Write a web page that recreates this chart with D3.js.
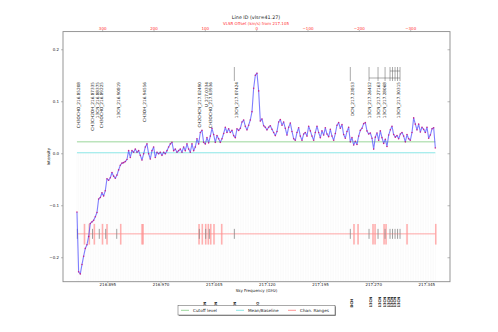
<!DOCTYPE html>
<html><head><meta charset="utf-8">
<script src="https://cdn.jsdelivr.net/npm/d3@7"></script>
<style>
body{margin:0;background:#fff}
svg{display:block;font-family:"DejaVu Sans",sans-serif}
</style>
</head><body>
<svg id="chart" width="498" height="332"></svg>
<script>
// ---- spectrum and annotation data ----
const title = "Line ID (vlsr=41.27)";
const subtitle = "VLSR Offset (km/s) from 217.105";
const xLabel = "Sky Frequency (GHz)";
const yLabel = "Intensity";
const restFreq = 217.105;          // GHz, zero of the velocity axis
const freqStart = 216.8522;        // GHz, first channel
const chanWidth = 0.0023512;       // GHz per channel

const intensity = [
 -0.113,-0.228,-0.232,-0.214,-0.198,-0.183,-0.176,-0.160,-0.135,-0.132,
 -0.129,-0.122,-0.114,-0.088,-0.085,-0.076,-0.082,-0.072,-0.049,-0.052,
 -0.047,-0.037,-0.044,-0.048,-0.042,-0.032,-0.023,-0.019,-0.018,-0.016,
 -0.012, 0.005,-0.008, 0.005, 0.002, 0.008, 0.002, 0.005,-0.004,-0.013,
 -0.001, 0.012, 0.018,-0.001,-0.011, 0.005, 0.012,-0.008, 0.002,-0.001,
  0.002,-0.004, 0.002,-0.001, 0.005, 0.012, 0.018, 0.021, 0.005, 0.008,
  0.002, 0.005, 0.008, 0.002, 0.012, 0.005, 0.018, 0.008, 0.002, 0.018,
  0.005, 0.012, 0.028, 0.018, 0.040, 0.044, 0.021, 0.018, 0.030, 0.020,
  0.033, 0.048, 0.036, 0.021, 0.034, 0.028, 0.021, 0.028, 0.038, 0.050,
  0.040, 0.047, 0.040, 0.044, 0.034, 0.030, 0.047, 0.044, 0.048, 0.060,
  0.064, 0.052, 0.045, 0.054, 0.064, 0.080, 0.125, 0.150, 0.154, 0.120,
  0.062, 0.066, 0.053, 0.050, 0.045, 0.050, 0.053, 0.046, 0.040, 0.034,
  0.042, 0.060, 0.065, 0.054, 0.060, 0.048, 0.035, 0.050, 0.058, 0.042,
  0.028, 0.025, 0.040, 0.049, 0.033, 0.025, 0.037, 0.040, 0.033, 0.052,
  0.043, 0.033, 0.025, 0.040, 0.052, 0.040, 0.030, 0.043, 0.035, 0.049,
  0.037, 0.032, 0.046, 0.033, 0.025, 0.038, 0.054, 0.059, 0.048, 0.055,
  0.036, 0.029, 0.042, 0.050, 0.022, 0.030, 0.016, 0.023, 0.017, 0.033,
  0.044, 0.048, 0.057, 0.059, 0.043, 0.037, 0.039, 0.029, 0.008, 0.031,
  0.039, 0.025, 0.043, 0.030, 0.019, 0.027, 0.013, 0.035, 0.045, 0.052,
  0.036, 0.031, 0.034, 0.028, 0.037, 0.040, 0.033, 0.022, 0.036, 0.028,
  0.025, 0.040, 0.068, 0.056, 0.045, 0.056, 0.041, 0.050, 0.046, 0.040,
  0.050, 0.029, 0.035, 0.047, 0.049, 0.010
];

const cutoffLevel = 0.022;
const baselineLevel = 0.001;
const rangeLevel = -0.155;

const freqTicks = [216.895, 216.970, 217.045, 217.120, 217.195, 217.270, 217.345];
const velTicks = [300, 200, 100, 0, -100, -200, -300];
const yTicks = [-0.2, -0.1, 0.0, 0.1, 0.2];

// channel-range edges (GHz)
const chanEdges = [216.8628, 216.8696, 216.8767, 216.8882, 216.8946, 216.9139,
  216.9440, 216.9454, 217.0244, 217.0290, 217.0338, 217.0375, 217.0409,
  217.0455, 217.0564, 217.2430, 217.2487, 217.2698, 217.2727, 217.2854,
  217.2882, 217.3178, 217.3583];

// identified line positions (GHz)
const lineFreqs = [216.8527, 216.8741, 216.8837, 216.8927, 216.9083, 217.0248,
  217.0338, 217.0389, 217.0742, 217.2378, 217.2642, 217.2769, 217.2868,
  217.2938, 217.2973, 217.3009, 217.3044, 217.3079];

const lineNames = ["CH3OCHO_216.85208", "CH3CH2OH_216.87335", "13CN_216.88375",
  "CH3OCHO_216.89225", "13CN_216.90819", "CH3OH_216.94556",
  "CH2CHCN_217.02490", "U_217.0334", "CH3OCHO_217.03936", "13CN_217.07424",
  "DCN_217.23853", "13CN_217.26452", "13CN_217.27163", "13CN_217.28068",
  "13CN_217.30315"];
const labelFreqs = [216.8541, 216.8748, 216.8808, 216.8864, 216.9107, 216.9475,
  217.0244, 217.0352, 217.0409, 217.0770, 217.2402, 217.2652, 217.2782,
  217.2863, 217.3052];

const sideNames = ["CN", "CN", "CN", "CO", "DCN", "13CN", "13CN", "13CN", "13CN", "13CN", "13CN", "13CN"];
const sideFreqs = [217.0324, 217.0475, 217.0749, 217.1077, 217.2402, 217.2666,
  217.2797, 217.2868, 217.2915, 217.2962, 217.3009, 217.3056];

const legendItems = [
  {name: "Cutoff level", color: "#8fd18f"},
  {name: "Mean/Baseline", color: "#7fe3e3"},
  {name: "Chan. Ranges", color: "#ff8a8a"}
];

// ---- layout ----
const svg = d3.select("#chart");
const L = 63, R = 450, T = 31.6, B = 281.7;

const freqs = intensity.map((_, i) => freqStart + i * chanWidth);
const fLo = freqs[0], fHi = freqs[freqs.length - 1];

const x = d3.scaleLinear().domain([216.8325, 217.3784]).range([L, R]);
const y = d3.scaleLinear().domain([-0.247, 0.234]).range([B, T]);
const cKms = 299792.458;
const toVel = f => (restFreq - f) / restFreq * cKms;
const xv = d3.scaleLinear().domain([toVel(216.8325), toVel(217.3784)]).range([L, R]);

const plot = svg.append("g");

// faint channel grid
plot.append("g").selectAll("line").data(freqs).join("line")
  .attr("x1", d => x(d)).attr("x2", d => x(d))
  .attr("y1", B).attr("y2", y(baselineLevel))
  .attr("stroke", "#000").attr("stroke-opacity", 0.035).attr("stroke-width", 0.6);

// cutoff & baseline
plot.append("line").attr("x1", x(fLo)).attr("x2", x(fHi))
  .attr("y1", y(cutoffLevel)).attr("y2", y(cutoffLevel))
  .attr("stroke", "#8fd18f").attr("stroke-width", 0.9);
plot.append("line").attr("x1", x(fLo)).attr("x2", x(fHi))
  .attr("y1", y(baselineLevel)).attr("y2", y(baselineLevel))
  .attr("stroke", "#7fe3e3").attr("stroke-width", 0.9);

// channel ranges
plot.append("line").attr("x1", x(fLo)).attr("x2", x(fHi))
  .attr("y1", y(rangeLevel)).attr("y2", y(rangeLevel))
  .attr("stroke", "#ff8080").attr("stroke-width", 0.7);
plot.append("g").selectAll("line").data(chanEdges).join("line")
  .attr("x1", d => x(d)).attr("x2", d => x(d))
  .attr("y1", y(-0.1358)).attr("y2", y(-0.1756))
  .attr("stroke", "#ff8f8f").attr("stroke-opacity", 0.7).attr("stroke-width", 1.6);

// line markers on the range bar
plot.append("g").selectAll("line").data(lineFreqs).join("line")
  .attr("x1", d => x(d)).attr("x2", d => x(d))
  .attr("y1", y(-0.1454)).attr("y2", y(-0.1646))
  .attr("stroke", "#888").attr("stroke-width", 0.8);

// spectrum
const pts = intensity.map((v, i) => [freqs[i], v]);
plot.append("path").datum(pts)
  .attr("d", d3.line().x(d => x(d[0])).y(d => y(d[1])))
  .attr("fill", "none").attr("stroke", "#4848ff").attr("stroke-opacity", 0.7)
  .attr("stroke-width", 1.1).attr("stroke-linejoin", "round");
plot.append("g").selectAll("circle").data(pts).join("circle")
  .attr("cx", d => x(d[0])).attr("cy", d => y(d[1])).attr("r", 0.8)
  .attr("fill", "#d6006a").attr("fill-opacity", 0.75);

// line-ID labels above the spectrum
const labTop = 82;
const lab = svg.append("g").attr("font-size", 4.2).attr("fill", "#222");
lab.selectAll("text").data(lineNames).join("text")
  .attr("transform", (d, i) => `translate(${x(labelFreqs[i]) + 1.5},${labTop}) rotate(-90)`)
  .attr("text-anchor", "end").text(d => d);

// leader lines for the upper-band identifications
const led = svg.append("g").attr("stroke", "#555").attr("stroke-width", 0.5).attr("fill", "none");
const upper = lineFreqs.filter(f => f > 217.06);
upper.forEach(f => {
  led.append("line").attr("x1", x(f)).attr("x2", x(f)).attr("y1", 67).attr("y2", 81);
});
const grp = upper.filter(f => f > 217.25);
led.append("line").attr("x1", x(d3.min(grp))).attr("x2", x(d3.max(grp))).attr("y1", 78).attr("y2", 78);
const tight = grp.filter(f => f > 217.29);
led.append("line").attr("x1", x(d3.min(tight))).attr("x2", x(d3.max(tight))).attr("y1", 71).attr("y2", 71);

// abbreviated identifications below the axis
svg.append("g").attr("font-size", 3.6).attr("fill", "#222").attr("font-weight", "bold")
  .selectAll("text").data(sideNames).join("text")
  .attr("transform", (d, i) => `translate(${x(sideFreqs[i]) + 1.3},307.5) rotate(-90)`)
  .attr("text-anchor", "start").text(d => d);

// frame
svg.append("rect").attr("x", L).attr("y", T).attr("width", R - L).attr("height", B - T)
  .attr("fill", "none").attr("stroke", "#8a8a8a").attr("stroke-width", 0.9);

// axes
const fs = 4;
const axBottom = svg.append("g").attr("transform", `translate(0,${B})`)
  .call(d3.axisBottom(x).tickValues(freqTicks).tickFormat(d3.format(".3f")).tickSize(1.5).tickPadding(0));
const axLeft = svg.append("g").attr("transform", `translate(${L},0)`)
  .call(d3.axisLeft(y).tickValues(yTicks).tickFormat(d3.format(".1f")).tickSize(2).tickPadding(2));
const axRight = svg.append("g").attr("transform", `translate(${R},0)`)
  .call(d3.axisLeft(y).tickValues(yTicks).tickFormat("").tickSize(2.5));
const axTop = svg.append("g").attr("transform", `translate(0,${T})`)
  .call(d3.axisTop(xv).tickValues(velTicks).tickFormat(d3.format("d")).tickSize(1.5).tickPadding(0.5));
[axBottom, axLeft, axRight, axTop].forEach(g => {
  g.select(".domain").remove();
  g.selectAll("line").attr("stroke", "#8a8a8a").attr("stroke-width", 0.6);
  g.selectAll("text").attr("font-size", fs).attr("fill", "#222").attr("font-family", "DejaVu Sans");
});
axTop.selectAll("text").attr("fill", "#ff3030");

// titles
svg.append("text").attr("x", 256).attr("y", 18.5).attr("text-anchor", "middle")
  .attr("font-size", 4.8).attr("fill", "#222").text(title);
svg.append("text").attr("x", 256).attr("y", 24.9).attr("text-anchor", "middle")
  .attr("font-size", 4).attr("fill", "#ff3030").text(subtitle);
svg.append("text").attr("x", (L + R) / 2).attr("y", 292).attr("text-anchor", "middle")
  .attr("font-size", 4).attr("fill", "#222").text(xLabel);
svg.append("text").attr("transform", `translate(49.5,${(T + B) / 2}) rotate(-90)`)
  .attr("text-anchor", "middle").attr("font-size", 4).attr("fill", "#222").text(yLabel);

// legend
const lg = svg.append("g").attr("transform", "translate(178,305.5)");
lg.append("rect").attr("x", 0.8).attr("y", 0.8).attr("width", 157).attr("height", 9.5).attr("fill", "#777");
lg.append("rect").attr("width", 157).attr("height", 9.5).attr("fill", "#fff")
  .attr("stroke", "#555").attr("stroke-width", 0.5);
const itemX = [3, 58, 110];
legendItems.forEach((it, i) => {
  lg.append("line").attr("x1", itemX[i]).attr("x2", itemX[i] + 8).attr("y1", 4.8).attr("y2", 4.8)
    .attr("stroke", it.color).attr("stroke-width", 0.9);
  lg.append("text").attr("x", itemX[i] + 12).attr("y", 6.3).attr("font-size", 4.2)
    .attr("fill", "#222").text(it.name);
});
</script>
</body></html>
